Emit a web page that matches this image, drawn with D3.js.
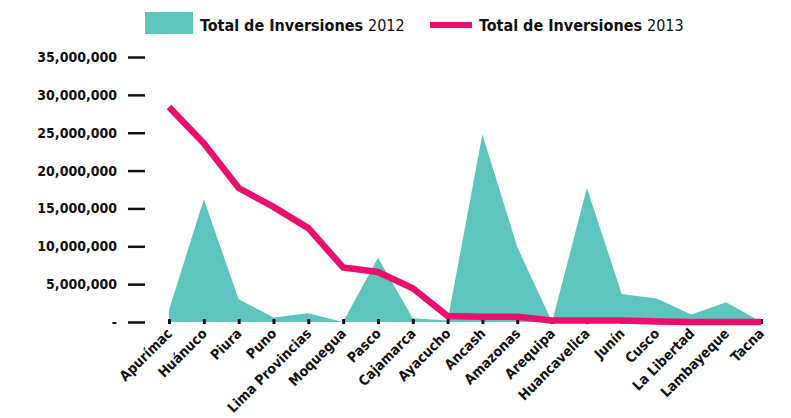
<!DOCTYPE html>
<html>
<head>
<meta charset="utf-8">
<script src="https://cdn.jsdelivr.net/npm/d3@7"></script>
<style>
body { margin: 0; background: #fff; }
svg text { font-family: "DejaVu Sans Condensed", "DejaVu Sans", sans-serif; fill: #111; }
.axis .domain { display: none; }
.axis line { stroke: #111; }
</style>
</head>
<body>
<svg id="chart" width="791" height="418"></svg>
<script>
var regiones = ["Apurímac", "Huánuco", "Piura", "Puno", "Lima Provincias", "Moquegua", "Pasco",
  "Cajamarca", "Ayacucho", "Ancash", "Amazonas", "Arequipa", "Huancavelica", "Junín", "Cusco",
  "La Libertad", "Lambayeque", "Tacna"];
var inversiones2012 = [1600000, 16200000, 3000000, 600000, 1150000, 0, 8500000, 500000, 200000,
  24800000, 9900000, 0, 17700000, 3700000, 3100000, 1000000, 2600000, 0];
var inversiones2013 = [28400000, 23600000, 17700000, 15200000, 12400000, 7200000, 6600000, 4450000,
  800000, 700000, 700000, 200000, 200000, 200000, 50000, 0, 0, 0];
var yTicks = [0, 5000000, 10000000, 15000000, 20000000, 25000000, 30000000, 35000000];

var data = regiones.map(function(r, i) {
  return {label: r, v2012: inversiones2012[i], v2013: inversiones2013[i]};
});

var svg = d3.select("#chart");

var x = d3.scalePoint().domain(regiones).range([169, 761]);
var y = d3.scaleLinear().domain([0, 35000000]).range([322, 57]);

// area 2012
var area = d3.area()
  .x(function(d) { return x(d.label); })
  .y0(y(0))
  .y1(function(d) { return y(d.v2012); });

svg.append("path")
  .datum(data)
  .attr("fill", "#5DC4BE")
  .attr("d", area);

// y axis
var yAxis = svg.append("g")
  .attr("class", "axis")
  .attr("transform", "translate(145,0)")
  .call(d3.axisLeft(y).tickValues(yTicks).tickSize(17).tickPadding(11)
    .tickFormat(function(d) { return d === 0 ? "-" : d3.format(",")(d); }));
yAxis.selectAll("line").attr("stroke-width", 2.5);
yAxis.selectAll("text")
  .style("font-size", "14px")
  .style("font-weight", "bold");

// x axis
var xAxis = svg.append("g")
  .attr("class", "axis")
  .attr("transform", "translate(0,319)")
  .call(d3.axisBottom(x).tickSize(5).tickPadding(6));
xAxis.selectAll("line").attr("stroke-width", 3);
xAxis.selectAll("text")
  .style("font-size", "14px")
  .style("font-weight", "bold")
  .attr("text-anchor", "end")
  .attr("dy", "0.35em")
  .attr("transform", "translate(0,12) rotate(-45)")
  .attr("y", 0)
  .attr("x", 0);

// line 2013
var line = d3.line()
  .x(function(d) { return x(d.label); })
  .y(function(d) { return y(d.v2013); });

svg.append("path")
  .datum(data)
  .attr("fill", "none")
  .attr("stroke", "#EC0E6C")
  .attr("stroke-width", 6.5)
  .attr("d", line);

// legend
var legend = svg.append("g");
legend.append("rect")
  .attr("x", 145).attr("y", 12).attr("width", 48).attr("height", 22)
  .attr("fill", "#5DC4BE");
var t1 = legend.append("text").attr("x", 200).attr("y", 31).style("font-size", "16px");
t1.append("tspan").style("font-weight", "bold").text("Total de Inversiones ");
t1.append("tspan").style("font-weight", "normal").text("2012");

legend.append("line")
  .attr("x1", 430).attr("x2", 472).attr("y1", 25).attr("y2", 25)
  .attr("stroke", "#EC0E6C").attr("stroke-width", 6);
var t2 = legend.append("text").attr("x", 479).attr("y", 31).style("font-size", "16px");
t2.append("tspan").style("font-weight", "bold").text("Total de Inversiones ");
t2.append("tspan").style("font-weight", "normal").text("2013");
</script>
</body>
</html>
